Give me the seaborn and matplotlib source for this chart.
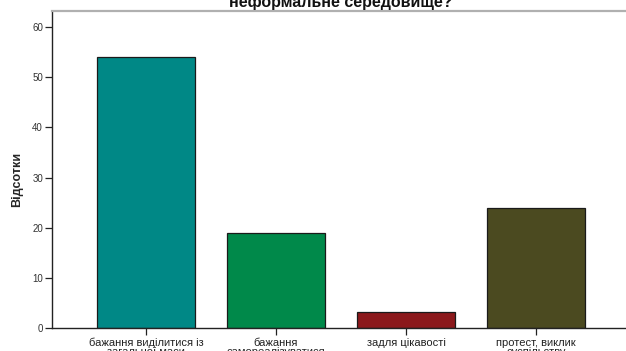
import matplotlib
matplotlib.use("Agg")
import matplotlib.pyplot as plt
from matplotlib import font_manager as fm
import seaborn as sns
import pandas as pd

categories = [
    "бажання виділитися із\nзагальної маси",
    "бажання\nсамореалізуватися",
    "задля цікавості",
    "протест, виклик\nсуспільству",
]
percents = [54.1, 19.0, 3.2, 23.9]
bar_colors = ["#008886", "#00894a", "#8b181b", "#4b4a20"]
y_ticks = [0, 10, 20, 30, 40, 50, 60]
title_text = "неформальне середовище?"
y_label = "Відсотки"

# Prefer the regular-width Liberation Sans files over the narrow variant
regular = bold = None
for path in fm.findSystemFonts():
    name = path.rsplit("/", 1)[-1]
    if name == "LiberationSans-Regular.ttf":
        regular = path
    elif name == "LiberationSans-Bold.ttf":
        bold = path

def font(size, weight="normal"):
    path = bold if weight == "bold" else regular
    if path:
        return fm.FontProperties(fname=path, size=size)
    return fm.FontProperties(family="DejaVu Sans", size=size, weight=weight)

sns.set_theme(style="white")
plt.rcParams["font.family"] = ["Liberation Sans", "DejaVu Sans"]

df = pd.DataFrame({"category": categories, "percent": percents})

fig = plt.figure(figsize=(6.26, 3.51), dpi=100)
ax = fig.add_axes([52 / 626, 1 - 328 / 351, 574 / 626, 317 / 351])

sns.barplot(
    data=df, x="category", y="percent", hue="category",
    palette=bar_colors, order=categories, hue_order=categories,
    width=0.754, edgecolor="#1a1a1a", linewidth=0.9, saturation=1,
    legend=False, ax=ax,
)

ax.set_xlim(-0.723, 3.692)
ax.set_ylim(0, 63.2)
ax.set_yticks(y_ticks)
ax.set_yticklabels([str(t) for t in y_ticks], fontproperties=font(7), color="#333333")
ax.set_xticks(range(len(categories)))
ax.set_xticklabels(categories, fontproperties=font(8), color="#222222", linespacing=0.9)
ax.tick_params(axis="y", direction="out", length=5, width=0.9, color="#222222", pad=1.5, left=True)
ax.tick_params(axis="x", direction="out", length=5, width=0.9, color="#222222", pad=2, bottom=True)

ax.set_xlabel("")
ax.set_ylabel(y_label, fontproperties=font(9, "bold"))
ax.yaxis.set_label_coords(-29 / 574, 0.47)

for side in ("left", "bottom"):
    ax.spines[side].set_color("#222222")
    ax.spines[side].set_linewidth(1.0)
ax.spines["top"].set_color("#b0b0b0")
ax.spines["top"].set_linewidth(1.6)
ax.spines["right"].set_visible(False)

fig.text(341 / 626, 1 - 7 / 351, title_text, ha="center", va="baseline",
         fontproperties=font(11.5, "bold"), color="#111111")

fig.savefig("out.png", dpi=100)
